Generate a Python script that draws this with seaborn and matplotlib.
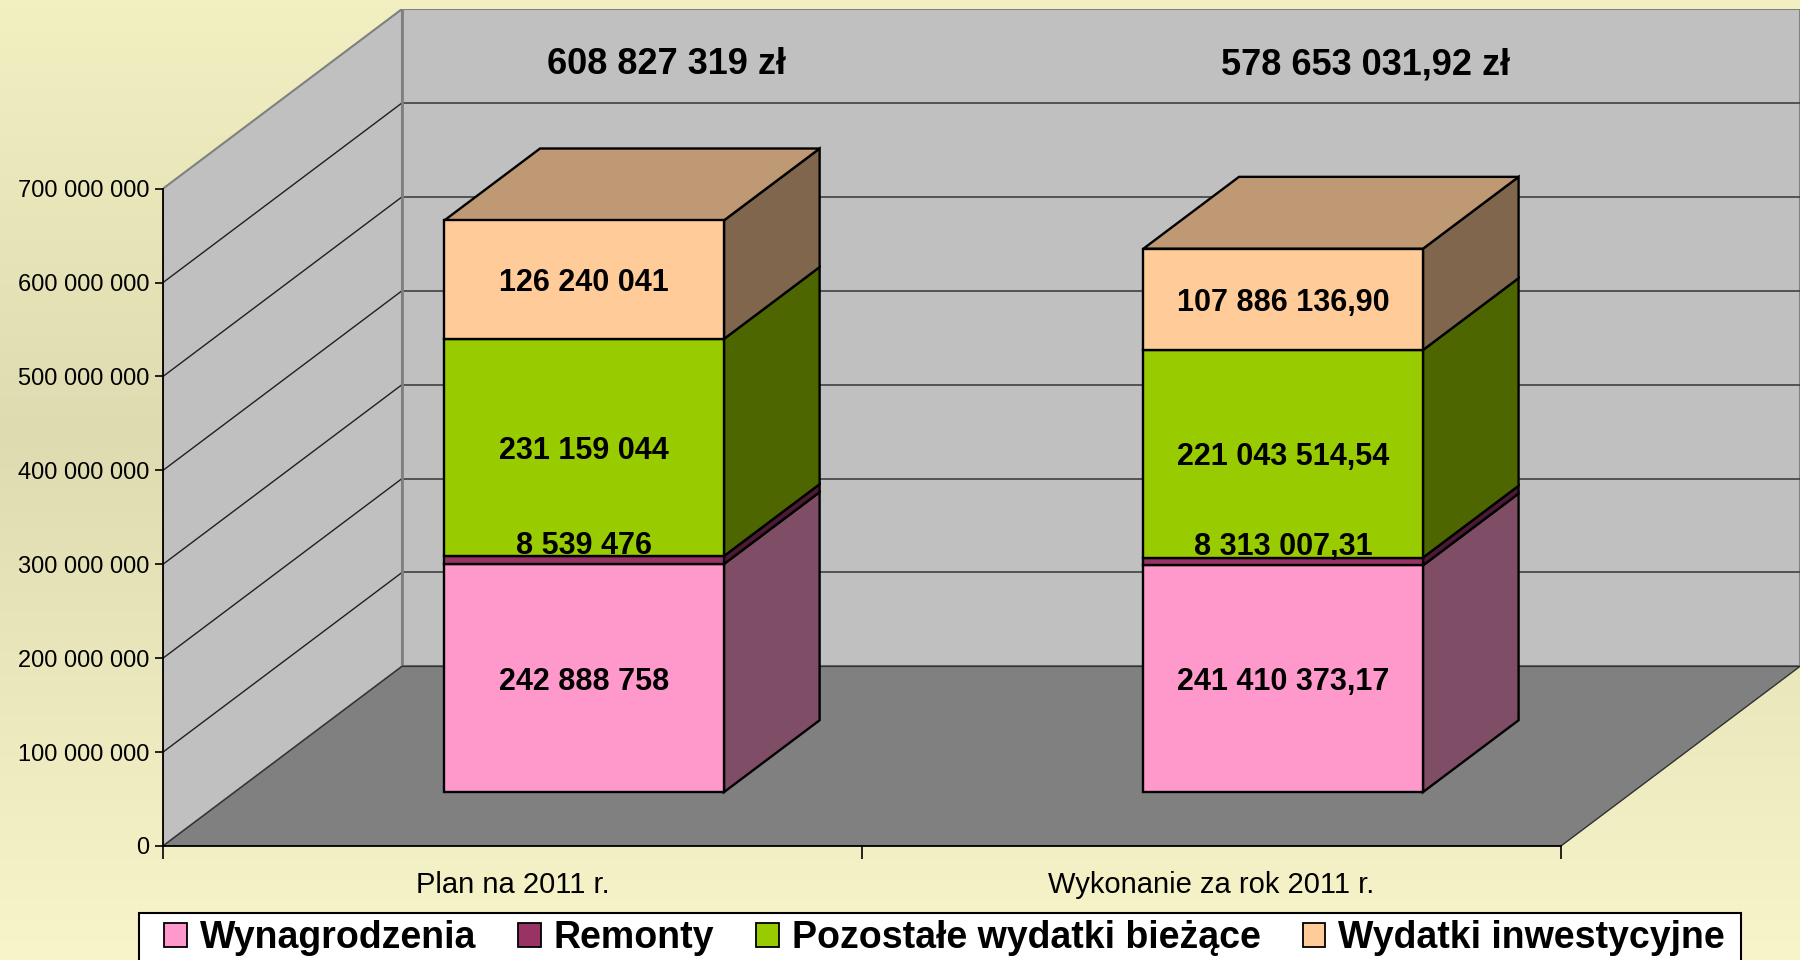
import numpy as np
import pandas as pd
import matplotlib
matplotlib.use("Agg")
import matplotlib.pyplot as plt
from matplotlib.patches import Polygon, Patch, Rectangle
import seaborn as sns

# ---- data -------------------------------------------------------------
categories = ["Plan na 2011 r.", "Wykonanie za rok 2011 r."]
series = ["Wynagrodzenia", "Remonty", "Pozostałe wydatki bieżące", "Wydatki inwestycyjne"]
plan = [242888758, 8539476, 231159044, 126240041]
wykonanie = [241410373.17, 8313007.31, 221043514.54, 107886136.90]
decimals = [0, 2]
y_ticks = [0, 100e6, 200e6, 300e6, 400e6, 500e6, 600e6, 700e6]

front_colors = ["#FF99CC", "#993366", "#99CC00", "#FFCC99"]

# ---- 3d-look geometry (oblique projection) ----------------------------
DEPTH_X = 0.342      # horizontal shift of full depth, in category units
DEPTH_Y = 191.3e6    # vertical shift of full depth, in value units
BAR_D0, BAR_D1 = 0.3, 0.7
BAR_W = 0.4
Y_MAX = 700e6
EDGE_LW = 1.7


def proj(x, v, d):
    return x + d * DEPTH_X, v + d * DEPTH_Y


def shade(color, f):
    rgb = np.array(matplotlib.colors.to_rgb(color))
    return tuple(rgb * f)


def fmt_pl(v, nd):
    s = f"{v:,.{nd}f}"
    return s.replace(",", " ").replace(".", ",")


sns.set_theme(style="white")
plt.rcParams["font.family"] = ["Liberation Sans", "DejaVu Sans"]
plt.rcParams["text.color"] = "black"

fig = plt.figure(figsize=(18, 9.6), dpi=100)

# background gradient
bg = fig.add_axes([0, 0, 1, 1], zorder=-10)
stops_y = [0.0, 0.45, 1.0]
stops_c = np.array([[0.95, 0.94, 0.76], [0.87, 0.86, 0.69], [0.97, 0.96, 0.79]])
t = np.linspace(0, 1, 256)
grad = np.stack([np.interp(t, stops_y, stops_c[:, k]) for k in range(3)], axis=-1)
bg.imshow(grad[:, None, :], aspect="auto", extent=[0, 1, 0, 1])
bg.set_axis_off()

ax = fig.add_axes([163 / 1800, 114 / 960, 1637 / 1800, 837 / 960])
ax.set_facecolor("none")
n_cat = len(categories)
x_lo, x_hi = -0.5, n_cat - 0.5
ax.set_xlim(x_lo, x_hi + DEPTH_X)
ax.set_ylim(0, Y_MAX + DEPTH_Y)

# walls and floor
side = [proj(x_lo, 0, 0), proj(x_lo, 0, 1), proj(x_lo, Y_MAX, 1), proj(x_lo, Y_MAX, 0)]
back = [proj(x_lo, 0, 1), proj(x_hi, 0, 1), proj(x_hi, Y_MAX, 1), proj(x_lo, Y_MAX, 1)]
floor = [proj(x_lo, 0, 0), proj(x_hi, 0, 0), proj(x_hi, 0, 1), proj(x_lo, 0, 1)]
ax.add_patch(Polygon(side, closed=True, facecolor="#C0C0C0", edgecolor="#808080", lw=1.5, zorder=0))
ax.add_patch(Polygon(back, closed=True, facecolor="#C0C0C0", edgecolor="#808080", lw=1.5, zorder=0))
ax.add_patch(Polygon(floor, closed=True, facecolor="#808080", edgecolor="#303030", lw=1.0, zorder=1))

for v in y_ticks[1:-1]:
    p0, p1, p2 = proj(x_lo, v, 0), proj(x_lo, v, 1), proj(x_hi, v, 1)
    ax.plot([p0[0], p1[0]], [p0[1], p1[1]], color="#202020", lw=1.0, zorder=0.5)
    ax.plot([p1[0], p2[0]], [p1[1], p2[1]], color="#404040", lw=1.2, zorder=0.5)
c0, c1 = proj(x_lo, 0, 1), proj(x_lo, Y_MAX, 1)
ax.plot([c0[0], c1[0]], [c0[1], c1[1]], color="#808080", lw=2, zorder=0.6)

# stacked bars
data = [plan, wykonanie]
values = np.array(data, dtype=float)          # shape (categories, series)
bottoms = np.vstack([np.zeros(n_cat), np.cumsum(values, axis=1)[:, :-1].T]).T
x_center = np.arange(n_cat, dtype=float)
x_front, base_front = proj(x_center, 0, BAR_D0)

for j, name in enumerate(series):
    df = pd.DataFrame({"x": x_front, "y": values[:, j]})
    sns.barplot(data=df, x="x", y="y", native_scale=True, width=BAR_W,
                bottom=bottoms[:, j] + base_front, color=front_colors[j],
                saturation=1, edgecolor="black", linewidth=EDGE_LW,
                errorbar=None, ax=ax, zorder=5)

for i in range(n_cat):
    xr = x_center[i] + BAR_W / 2
    xl = x_center[i] - BAR_W / 2
    for j in range(len(series)):
        v0 = bottoms[i, j]
        v1 = v0 + values[i, j]
        face = [proj(xr, v0, BAR_D0), proj(xr, v0, BAR_D1),
                proj(xr, v1, BAR_D1), proj(xr, v1, BAR_D0)]
        ax.add_patch(Polygon(face, closed=True, facecolor=shade(front_colors[j], 0.5),
                             edgecolor="black", lw=EDGE_LW, zorder=4))
        # value label on the front face
        lx, ly = proj(x_center[i], (v0 + v1) / 2, BAR_D0)
        if values[i, j] < 20e6:
            ly += 19e6
        ax.text(lx, ly, fmt_pl(values[i, j], decimals[i]), ha="center", va="center_baseline",
                fontsize=22, fontweight="bold", color="black", zorder=7)
    vt = bottoms[i, -1] + values[i, -1]
    top = [proj(xl, vt, BAR_D0), proj(xr, vt, BAR_D0), proj(xr, vt, BAR_D1), proj(xl, vt, BAR_D1)]
    ax.add_patch(Polygon(top, closed=True, facecolor=shade(front_colors[-1], 0.75),
                         edgecolor="black", lw=EDGE_LW, zorder=4))
    # total on the back wall
    ax.text(x_center[i] + 0.22, 836e6, fmt_pl(values[i].sum(), decimals[i]) + " zł",
            ha="center", va="center_baseline", fontsize=26, fontweight="bold",
            color="black", zorder=7)

# axes decoration
ax.set_xlabel("")
ax.set_ylabel("")
ax.grid(False)
for s in ["top", "right"]:
    ax.spines[s].set_visible(False)
for s in ["left", "bottom"]:
    ax.spines[s].set_color("black")
    ax.spines[s].set_linewidth(1.3)
    ax.spines[s].set_zorder(3)
ax.spines["left"].set_bounds(0, Y_MAX)
ax.spines["bottom"].set_bounds(x_lo, x_hi)

ax.set_yticks(y_ticks)
ax.set_yticklabels([fmt_pl(v, 0) for v in y_ticks])
ax.tick_params(axis="y", which="major", left=True, length=6, width=1.2, color="black",
               direction="out", pad=4, labelsize=17, labelcolor="black")

ax.set_xticks(np.arange(n_cat + 1) - 0.5)
ax.set_xticklabels([""] * (n_cat + 1))
ax.set_xticks(x_center, minor=True)
ax.set_xticklabels(categories, minor=True)
ax.tick_params(axis="x", which="major", bottom=True, length=9, width=1.2, color="black",
               direction="out")
ax.tick_params(axis="x", which="minor", bottom=True, length=0, pad=18,
               labelsize=21, labelcolor="black")

# legend
fig.add_artist(Rectangle((139 / 1800, -0.05), (1741 - 139) / 1800, 0.05 + 1 - 913 / 960,
                         transform=fig.transFigure, facecolor="white", edgecolor="black",
                         lw=1.5, zorder=1))
handles = [Patch(facecolor=c, edgecolor="black", lw=1.3, label=s)
           for c, s in zip(front_colors, series)]
fig.legend(handles=handles, loc="center left", bbox_to_anchor=(164 / 1800, 1 - 938 / 960),
           ncol=4, frameon=False, prop={"weight": "bold", "size": 27}, labelcolor="black",
           handlelength=0.6, handleheight=0.6, handletextpad=0.35, columnspacing=1.12,
           borderpad=0, borderaxespad=0)

fig.savefig("out.png", dpi=100)
